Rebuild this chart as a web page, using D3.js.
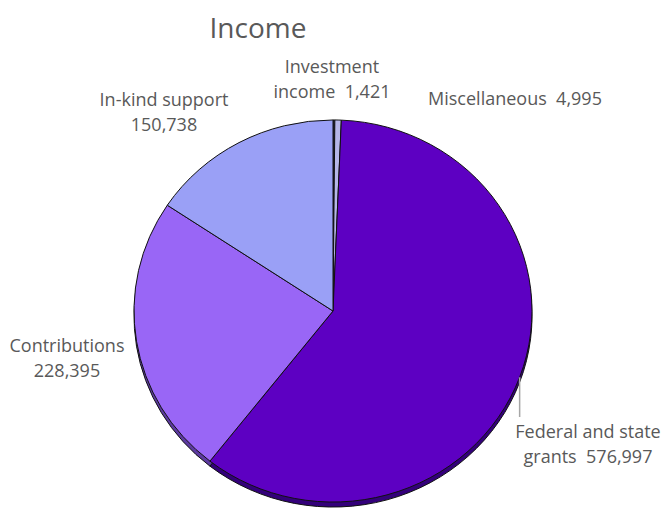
<!DOCTYPE html>
<html lang="en">
  <head>
    <meta charset="UTF-8" />
    <script src="https://d3js.org/d3.v7.min.js"></script>
    <title>Income</title>
    <style type="text/css">
      body { margin: 0; background: #fff; }
      text { font-family: 'Open Sans', sans-serif; fill: #595959; white-space: pre; }
    </style>
  </head>
  <body>
    <svg width="664" height="514"></svg>
  </body>
  <script type="text/javascript">
    // data, clockwise from 12 o'clock
    const categories = ['Investment income', 'Miscellaneous', 'Federal and state grants', 'Contributions', 'In-kind support'];
    const values = [1421, 4995, 576997, 228395, 150738];
    const labelLines = [
      ['Investment', 'income  {v}'],
      ['Miscellaneous  {v}'],
      ['Federal and state', 'grants  {v}'],
      ['Contributions', '{v}'],
      ['In-kind support', '{v}']
    ];

    const colors = ['#2e2a5c', '#b6b6e8', '#5d00c2', '#9966f6', '#9aa0f6'];
    const sideColors = ['#1c1840', '#7a7aa8', '#33007a', '#5c3aa0', '#5d62a8'];
    // label anchor points (centre of the text block, first baseline)
    const labelPos = [[332, 73], [515, 105], [588, 438], [67, 352], [164, 106]];

    const svg = d3.select('svg');
    const fmt = d3.format(',');

    const cx = 333, cy = 311, r = 199, squash = 0.96, depth = 5;

    const pie = d3.pie().sort(null).value((d) => d.value);
    const arcs = pie(categories.map((c, i) => ({ name: c, value: values[i], i })));
    const arc = d3.arc().innerRadius(0).outerRadius(r);

    // title
    svg.append('text')
      .attr('x', 258)
      .attr('y', 38)
      .attr('text-anchor', 'middle')
      .attr('font-size', '28px')
      .text('Income');

    // side (depth) of the pie
    const side = svg.append('g')
      .attr('transform', `translate(${cx}, ${cy + depth}) scale(1, ${squash})`);
    side.selectAll('path')
      .data(arcs)
      .join('path')
      .attr('d', arc)
      .attr('fill', (d) => sideColors[d.data.i])
      .attr('stroke', '#111')
      .attr('stroke-width', 1)
      .attr('vector-effect', 'non-scaling-stroke');

    // top faces
    const g = svg.append('g')
      .attr('transform', `translate(${cx}, ${cy}) scale(1, ${squash})`);
    g.selectAll('path')
      .data(arcs)
      .join('path')
      .attr('d', arc)
      .attr('fill', (d) => colors[d.data.i])
      .attr('stroke', '#111')
      .attr('stroke-width', 1)
      .attr('stroke-linejoin', 'round')
      .attr('vector-effect', 'non-scaling-stroke');

    // leader line for the big slice, from the rim at its mid angle
    const fedArc = arcs[2];
    const mid = (fedArc.startAngle + fedArc.endAngle) / 2;
    const lx = cx + r * Math.sin(mid);
    svg.append('line')
      .attr('x1', lx)
      .attr('x2', lx)
      .attr('y1', cy - r * squash * Math.cos(mid))
      .attr('y2', labelPos[2][1] - 21)
      .attr('stroke', '#a6a6a6')
      .attr('stroke-width', 1.5);

    // labels
    arcs.forEach((d) => {
      const i = d.data.i;
      const t = svg.append('text')
        .attr('x', labelPos[i][0])
        .attr('y', labelPos[i][1])
        .attr('text-anchor', 'middle')
        .attr('font-size', '18px');
      labelLines[i].forEach((line, k) => {
        t.append('tspan')
          .attr('x', labelPos[i][0])
          .attr('dy', k === 0 ? 0 : 24.5)
          .text(line.replace('{v}', fmt(values[i])));
      });
    });
  </script>
</html>
